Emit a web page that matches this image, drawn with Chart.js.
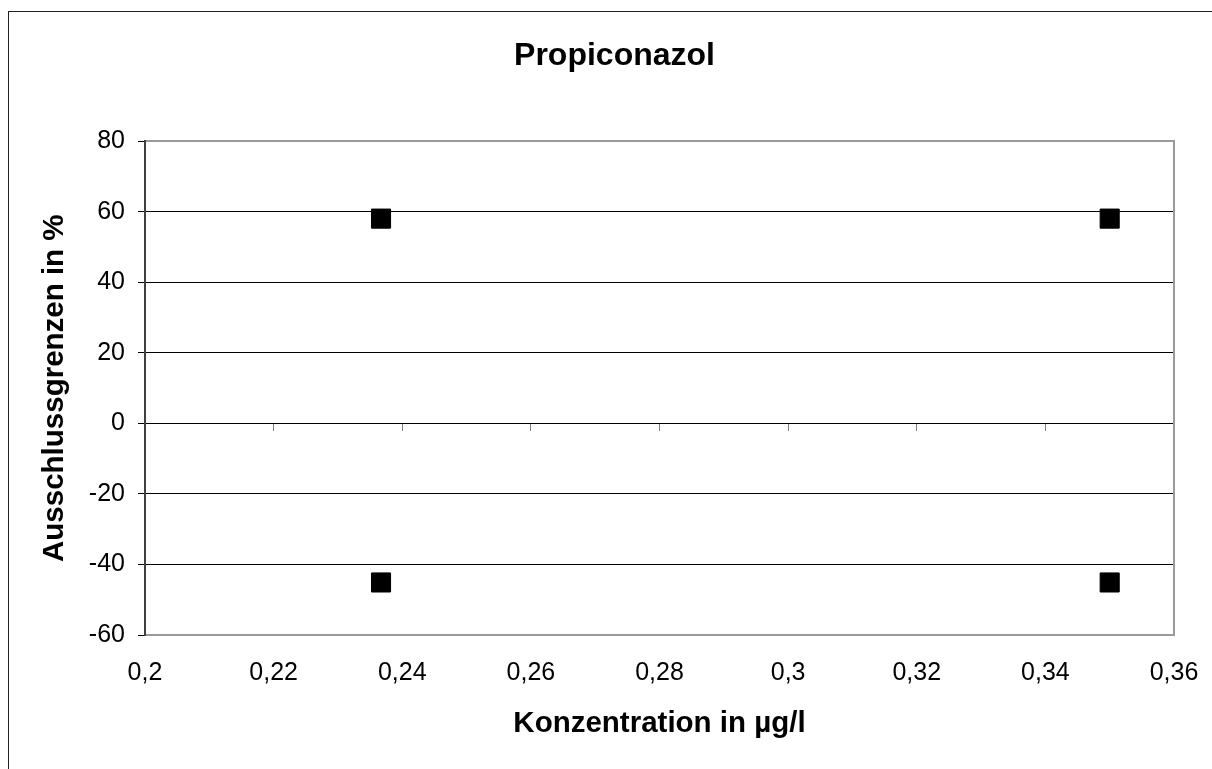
<!DOCTYPE html>
<html>
<head>
<meta charset="utf-8">
<script src="https://cdn.jsdelivr.net/npm/chart.js@4/dist/chart.umd.min.js"></script>
<style>
  html, body { margin: 0; padding: 0; background: #fff; overflow: hidden; }
  #frame { position: absolute; left: 8px; top: 11px; width: 2000px; height: 2000px;
           border-left: 1px solid #222; border-top: 1px solid #222; pointer-events: none; }
  #chart { position: absolute; left: 0; top: 0; }
</style>
</head>
<body>
<canvas id="chart" width="1212" height="769"></canvas>
<div id="frame"></div>
<script>
// data
const concentrations = [0.2367, 0.35];   // µg/l
const upperLimits = [58.1, 58.1];        // %
const lowerLimits = [-45.1, -45.1];      // %

const xMin = 0.2, xMax = 0.36, xStep = 0.02;
const yMin = -60, yMax = 80, yStep = 20;

const chartTitle = 'Propiconazol';
const xTitle = 'Konzentration in µg/l';
const yTitle = 'Ausschlussgrenzen in %';

Chart.defaults.font.family = "'Liberation Sans', Arial, sans-serif";
Chart.defaults.color = '#000';

const frameGray = '#9a9a9a';
const toPoints = (ys) => concentrations.map((x, i) => ({ x: x, y: ys[i] }));
const commaNum = (v) => String(Math.round(v * 1000) / 1000).replace('.', ',');

const markerStyle = {
  pointStyle: 'rect',
  pointRadius: 13.5,
  pointHoverRadius: 13.5,
  backgroundColor: '#000',
  borderColor: '#000',
  borderWidth: 1,
  showLine: false
};

new Chart(document.getElementById('chart'), {
  type: 'scatter',
  data: {
    datasets: [
      { label: 'obere Grenze', data: toPoints(upperLimits), ...markerStyle },
      { label: 'untere Grenze', data: toPoints(lowerLimits), ...markerStyle }
    ]
  },
  options: {
    responsive: false,
    animation: false,
    layout: { padding: { left: 17, right: 0, top: 0, bottom: 0 } },
    plugins: {
      legend: { display: false },
      tooltip: { enabled: false },
      title: {
        display: true,
        text: chartTitle,
        font: { size: 32, weight: 'bold', lineHeight: 1.2 },
        color: '#000',
        padding: { top: 37, bottom: 66 }
      }
    },
    scales: {
      x: {
        type: 'linear',
        position: 'bottom',
        min: xMin, max: xMax,
        // fixed height, and no extra side padding for the edge labels
        afterFit: (s) => { s.height = 134; s.paddingLeft = 0; s.paddingRight = 0; },
        grid: { display: false, drawTicks: false },
        border: { display: true, color: frameGray, width: 2, z: 1 },
        ticks: {
          stepSize: xStep,
          padding: 23,
          maxRotation: 0,
          font: { size: 25 },
          color: '#000',
          callback: (v) => commaNum(v)
        },
        title: {
          display: true,
          text: xTitle,
          font: { size: 29.5, weight: 'bold', lineHeight: 1.2 },
          color: '#000',
          padding: { top: 0, bottom: 27 }
        }
      },
      xZero: {
        type: 'linear',
        position: { y: 0 },
        min: xMin, max: xMax,
        afterFit: (s) => { s.paddingLeft = 0; s.paddingRight = 0; },
        grid: { drawOnChartArea: false, drawTicks: true, tickLength: 8, color: '#808080' },
        border: { display: false },
        ticks: { stepSize: xStep, display: false }
      },
      xTop: {
        type: 'linear',
        position: 'top',
        min: xMin, max: xMax,
        afterFit: (s) => { s.height = 0; s.paddingLeft = 0; s.paddingRight = 0; },
        grid: { display: false, drawTicks: false },
        border: { display: true, color: frameGray, width: 2, z: 1 },
        ticks: { display: false }
      },
      y: {
        type: 'linear',
        position: 'left',
        min: yMin, max: yMax,
        afterFit: (s) => { s.width = 128; },
        grid: { color: '#000', lineWidth: 1, tickLength: 7 },
        border: { display: true, color: '#404040', width: 2, z: 1 },
        ticks: {
          stepSize: yStep,
          padding: 13,
          font: { size: 25 },
          color: '#000',
          callback: (v) => String(v)
        },
        title: {
          display: true,
          text: yTitle,
          font: { size: 29.5, weight: 'bold', lineHeight: 1.2 },
          color: '#000',
          padding: { top: 20, bottom: 0 }
        }
      },
      yRight: {
        type: 'linear',
        position: 'right',
        min: yMin, max: yMax,
        afterFit: (s) => { s.width = 38; },
        grid: { display: false, drawTicks: false },
        border: { display: true, color: frameGray, width: 2, z: 1 },
        ticks: { display: false }
      }
    }
  }
});
</script>
</body>
</html>
